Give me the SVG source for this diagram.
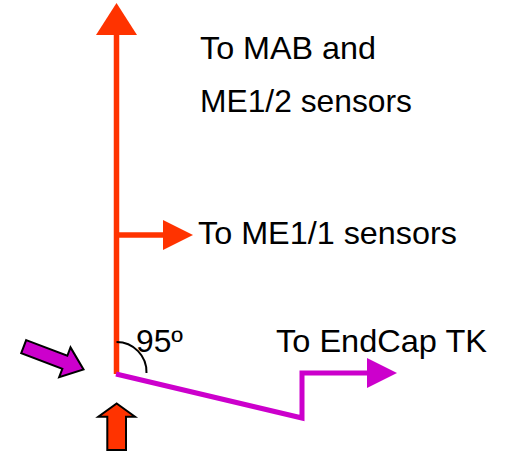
<svg xmlns="http://www.w3.org/2000/svg" width="505" height="455" viewBox="0 0 505 455">
<style>
.lbl{font-family:"Liberation Sans",Arial,sans-serif;font-size:30.5px;fill:#000}
.red{stroke:#FF3300;stroke-width:5.5;fill:none}
.mag{stroke:#CC00CC;stroke-width:5;fill:none}
</style>
<rect width="505" height="455" fill="#fff"/>
<g id="connectors">
<line class="red" x1="116.5" y1="374" x2="116.5" y2="32"/>
<polygon points="116.5,3 96,35 137,35" fill="#FF3300"/>
<line class="red" x1="116.5" y1="235" x2="166" y2="235"/>
<polygon points="193,235 163,220 163,250" fill="#FF3300"/>
<polyline class="mag" points="116,374 302,418 302,373 370,373"/>
<polygon points="397,373 367,358 367,388" fill="#CC00CC"/>
</g>
<g id="angle">
<path d="M116.5,342 A30,30 0 0 1 146.5,373" fill="none" stroke="#000" stroke-width="2"/>
<text class="lbl" x="136" y="352" textLength="47" lengthAdjust="spacingAndGlyphs">95º</text>
</g>
<g id="mab-label"><text class="lbl" x="200" y="59" textLength="176" lengthAdjust="spacingAndGlyphs">To MAB and</text><text class="lbl" x="200" y="111.5" textLength="212" lengthAdjust="spacingAndGlyphs">ME1/2 sensors</text></g>
<g id="me11-label"><text class="lbl" x="198" y="243.5" textLength="259" lengthAdjust="spacingAndGlyphs">To ME1/1 sensors</text></g>
<g id="endcap-label"><text class="lbl" x="276" y="352" textLength="211" lengthAdjust="spacingAndGlyphs">To EndCap TK</text></g>
<g id="magenta-input">
<polygon transform="translate(23.7,346.7) rotate(20.8)" points="0,-7 44,-7 44,-16 64,0 44,16 44,7 0,7" fill="#CC00CC" stroke="#000" stroke-width="2" stroke-linejoin="miter"/>
</g>
<g id="red-input">
<polygon points="116.7,403.5 135,416.7 126,416.7 126,450 107.3,450 107.3,416.7 98.3,416.7" fill="#FF3300" stroke="#000" stroke-width="2"/>
</g>
</svg>
